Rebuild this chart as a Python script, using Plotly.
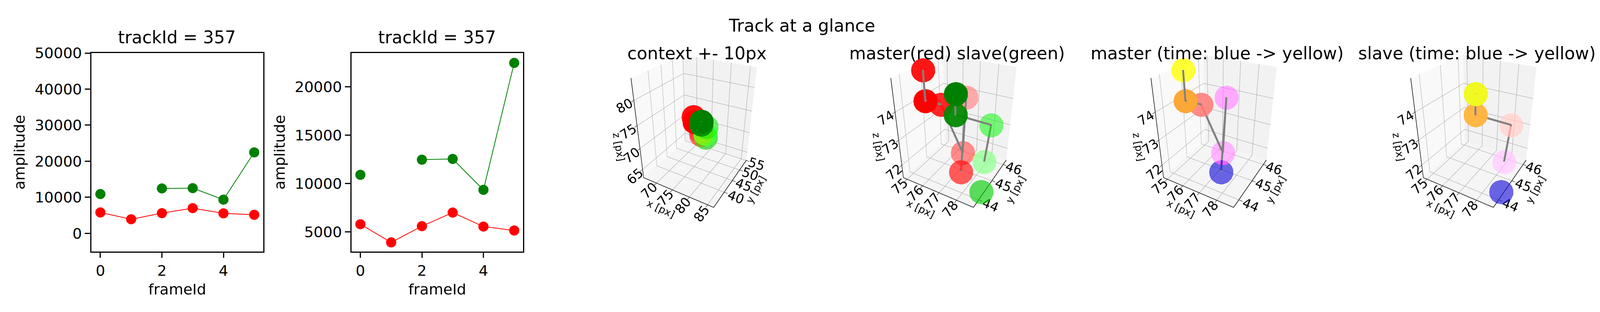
import plotly.graph_objects as go
from plotly.colors import sample_colorscale, hex_to_rgb
import numpy as np

# ---------------- data ----------------
frames = [0, 1, 2, 3, 4, 5]
master_amp = [5800, 3920, 5600, 7000, 5560, 5150]
slave_amp = [10900, None, 12460, 12540, 9350, 22450]

master_x = [77.22, 76.30, 76.89, 75.87, 75.38, 74.88]
master_y = [44.80, 46.20, 45.30, 45.00, 44.60, 45.00]
master_z = [71.54, 73.70, 71.97, 73.86, 74.08, 74.92]
slave_x = [78.80, None, 78.00, 78.32, 77.77, 77.78]
slave_y = [44.30, None, 45.60, 45.50, 43.85, 43.85]
slave_z = [71.52, None, 71.64, 73.29, 74.34, 74.95]

track_id = 357
zoom_range_x = [74.75, 78.9]
zoom_range_y = [43.65, 46.3]
zoom_range_z = [71.46, 75.07]
ctx_range_x = [65.75, 86.6]
ctx_range_y = [34.2, 55.2]
ctx_range_z = [62.9, 84.0]
zoom_ticks_x = [75, 76, 77, 78]
zoom_ticks_y = [44, 45, 46]
zoom_ticks_z = [72, 73, 74]
ctx_ticks_x = [70, 75, 80, 85]
ctx_ticks_y = [40, 45, 50, 55]
ctx_ticks_z = [65, 70, 75, 80]

FONT = "DejaVu Sans"
TICK = 38
TICK3D = 20
TITLE3D_AX = 26
TITLE = 44
# the browser captures at most ~4096 px in width: lay the 4800 px design out
# horizontally compressed so the whole figure is visible
W, H = 4096, 800
S = W / 4800.0


def px(v):
    return v * S / W  # design px (4800 wide) -> paper fraction


# view direction of matplotlib default (elev=30, azim=-60)
VIEW = np.array([0.433, -0.75, 0.5])


def depth_alpha(xs, ys, zs, rx, ry, rz):
    """matplotlib-like depth shading: nearest point opaque, farthest 0.3"""
    pts = [(a, b, c) for a, b, c in zip(xs, ys, zs) if a is not None]
    arr = np.array(pts, dtype=float)
    n = np.column_stack([(arr[:, 0] - rx[0]) / (rx[1] - rx[0]),
                         (arr[:, 1] - ry[0]) / (ry[1] - ry[0]),
                         (arr[:, 2] - rz[0]) / (rz[1] - rz[0])])
    d = n @ VIEW
    a = 0.3 + 0.7 * (d - d.min()) / (d.max() - d.min())
    out, k = [], 0
    for v in xs:
        if v is None:
            out.append(0.0)
        else:
            out.append(float(a[k]))
            k += 1
    return out


def rgba(col, a):
    if col.startswith('rgb'):
        r, g, b = [float(v) for v in col[col.index('(') + 1:-1].split(',')[:3]]
    else:
        r, g, b = hex_to_rgb(col)
    return f"rgba({int(round(r))},{int(round(g))},{int(round(b))},{a:.3f})"


fig = go.Figure()

# ---------------- 2D amplitude panels ----------------
for xa, ya in [('x', 'y'), ('x2', 'y2')]:
    fig.add_trace(go.Scatter(x=frames, y=master_amp, mode='lines+markers',
                             line=dict(color='#ff0000', width=2),
                             marker=dict(color='#ff0000', size=26),
                             xaxis=xa, yaxis=ya, showlegend=False))
    fig.add_trace(go.Scatter(x=frames, y=slave_amp, mode='lines+markers',
                             line=dict(color='#008000', width=2),
                             marker=dict(color='#008000', size=26),
                             connectgaps=False,
                             xaxis=xa, yaxis=ya, showlegend=False))

# ---------------- 3D panels ----------------
centers = [2082, 2862, 3642, 4422]
scene_specs = [
    ('scene', centers[0], ctx_range_x, ctx_range_y, ctx_range_z, ctx_ticks_x, ctx_ticks_y, ctx_ticks_z, 'both_rg'),
    ('scene2', centers[1], zoom_range_x, zoom_range_y, zoom_range_z, zoom_ticks_x, zoom_ticks_y, zoom_ticks_z, 'both_rg'),
    ('scene3', centers[2], zoom_range_x, zoom_range_y, zoom_range_z, zoom_ticks_x, zoom_ticks_y, zoom_ticks_z, 'master_t'),
    ('scene4', centers[3], zoom_range_x, zoom_range_y, zoom_range_z, zoom_ticks_x, zoom_ticks_y, zoom_ticks_z, 'slave_t'),
]

plasma = sample_colorscale('Plasma', [f / max(frames) for f in frames])

for sc, c, rx, ry, rz, tx, ty, tz, kind in scene_specs:
    if kind == 'both_rg':
        sets = [(master_x, master_y, master_z, ['#ff0000'] * len(frames)),
                (slave_x, slave_y, slave_z, ['#008000'] * len(frames))]
    elif kind == 'master_t':
        sets = [(master_x, master_y, master_z, plasma)]
    else:
        sets = [(slave_x, slave_y, slave_z, plasma)]
    for xs, ys, zs, cols in sets:
        al = depth_alpha(xs, ys, zs, rx, ry, rz)
        colors = [rgba(col, a) for col, a in zip(cols, al)]
        fig.add_trace(go.Scatter3d(x=xs, y=ys, z=zs, mode='markers',
                                   marker=dict(size=36, color=colors, line=dict(width=0)),
                                   scene=sc, showlegend=False, hoverinfo='skip'))
    for xs, ys, zs, cols in sets:
        fig.add_trace(go.Scatter3d(x=xs, y=ys, z=zs, mode='lines',
                                   line=dict(color='#808080', width=10),
                                   connectgaps=False,
                                   scene=sc, showlegend=False, hoverinfo='skip'))


def ax3d(rng, ticks, title, bg):
    return dict(range=rng, tickvals=ticks, autorange=False,
                title=dict(text=title, font=dict(size=TITLE3D_AX, family=FONT, color='black')),
                tickfont=dict(size=TICK3D, family=FONT, color='black'),
                showbackground=True, backgroundcolor=bg,
                gridcolor='#b0b0b0', gridwidth=2.5,
                showline=True, linecolor='black', linewidth=3,
                ticks='outside', tickcolor='black', ticklen=8, tickwidth=2,
                zeroline=False, showspikes=False)


scene_half_w = 300
scene_top, scene_bot = 0, 598
r = 2.49
eye = dict(x=VIEW[0] * r, y=VIEW[1] * r, z=VIEW[2] * r)

layout = dict(width=W, height=H, margin=dict(l=0, r=0, t=0, b=0),
              paper_bgcolor='white', plot_bgcolor='white',
              font=dict(family=FONT, color='black', size=TICK))

for sc, c, rx, ry, rz, tx, ty, tz, kind in scene_specs:
    layout[sc] = dict(
        domain=dict(x=[px(c - scene_half_w), px(c + scene_half_w)],
                    y=[1 - scene_bot / H, 1 - scene_top / H]),
        xaxis=ax3d(rx, tx, 'x [px]', '#f9f9f9'),
        yaxis=ax3d(ry, ty, 'y [px]', '#f2f2f2'),
        zaxis=ax3d(rz, tz, 'z [px]', '#f5f5f5'),
        aspectmode='manual', aspectratio=dict(x=0.75, y=0.75, z=1),
        camera=dict(eye=eye, up=dict(x=0, y=0, z=1), center=dict(x=0, y=0, z=0),
                    projection=dict(type='perspective')),
        bgcolor='rgba(0,0,0,0)')


def ax2d(domain, rng, ticks, title, anchor):
    return dict(domain=domain, range=rng, tickvals=ticks, anchor=anchor,
                tickformat='d',
                showgrid=False, zeroline=False, showline=True, mirror=True,
                linecolor='black', linewidth=2.5, ticks='outside', ticklen=14,
                tickwidth=2.5, tickcolor='black',
                tickfont=dict(size=TICK, family=FONT, color='black'),
                title=dict(text=title, font=dict(size=TICK, family=FONT, color='black'), standoff=14))


ydom = [1 - 632 / H, 1 - 109 / H]
layout['xaxis'] = ax2d([px(265), px(780)], [-0.29, 5.29], [0, 2, 4], 'frameId', 'y')
layout['yaxis'] = ax2d(ydom, [-5000, 50000], [0, 10000, 20000, 30000, 40000, 50000], 'amplitude', 'x')
layout['xaxis2'] = ax2d([px(1045), px(1560)], [-0.29, 5.29], [0, 2, 4], 'frameId', 'y2')
layout['yaxis2'] = ax2d(ydom, [2994, 23470], [5000, 10000, 15000, 20000], 'amplitude', 'x2')

fig.update_layout(**layout)

anns = []
for cx in [522, 1302]:
    anns.append(dict(text=f"trackId = {track_id}", x=px(cx), y=1 - 67 / H, xref='paper', yref='paper',
                     showarrow=False, font=dict(size=TITLE, family=FONT, color='black'),
                     xanchor='center', yanchor='middle'))
for txt, cx in zip(["context +- 10px", "master(red) slave(green)",
                    "master (time: blue -> yellow)", "slave (time: blue -> yellow)"], centers):
    anns.append(dict(text=txt, x=px(cx), y=1 - 110 / H, xref='paper', yref='paper',
                     showarrow=False, font=dict(size=TITLE, family=FONT, color='black'),
                     xanchor='center', yanchor='middle'))
anns.append(dict(text="Track at a glance", x=px(2397), y=1 - 36 / H, xref='paper', yref='paper',
                 showarrow=False, font=dict(size=TITLE, family=FONT, color='black'),
                 xanchor='center', yanchor='middle'))
fig.update_layout(annotations=anns)

fig.write_html("out.html")
